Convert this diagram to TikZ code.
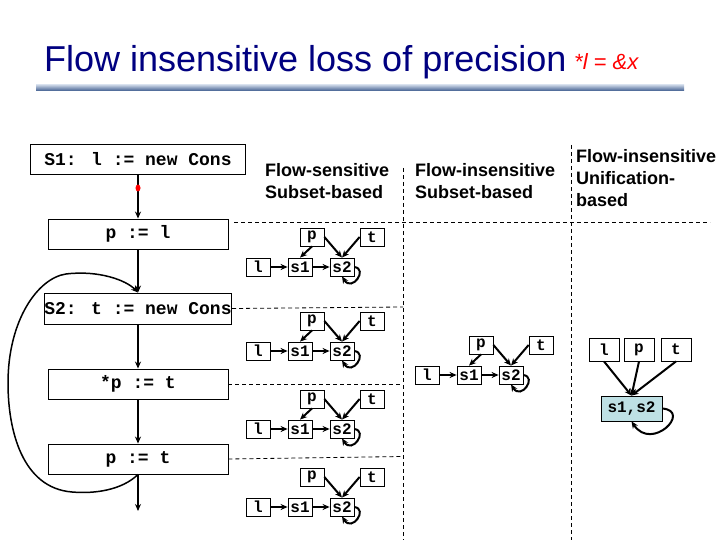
\documentclass[tikz,border=0pt]{standalone}
\usepackage{fontspec}
\setmainfont{Liberation Sans}
\newfontfamily\monofam{Liberation Mono}
\usetikzlibrary{arrows.meta}
\definecolor{titleblue}{RGB}{0,0,128}
\definecolor{unifill}{RGB}{190,224,228}
\tikzset{
  stmt/.style={draw, line width=0.9pt, minimum height=30pt, inner sep=0pt,
    font=\monofam\bfseries\fontsize{18}{20}\selectfont},
  ptbox/.style={draw, line width=0.8pt, minimum width=24pt, minimum height=18pt, inner sep=0pt,
    font=\monofam\bfseries\fontsize{16}{18}\selectfont},
  ubox/.style={draw, line width=0.8pt, minimum width=30pt, minimum height=23pt, inner sep=0pt,
    font=\monofam\bfseries\fontsize{16}{18}\selectfont},
  arr/.style={line width=2pt, -{Stealth[length=7pt,width=6pt]}},
  sep/.style={line width=0.8pt, dash pattern=on 4pt off 3pt},
  head/.style={align=left, anchor=north west, inner sep=0pt,
    font=\bfseries\fontsize{18}{22}\selectfont}
}
\newcommand\fsgraph[4]{%
  \begin{scope}[shift={(#2,#3)}]
    \node[ptbox] (#1p) at (312,237) {p};
    \node[ptbox] (#1t) at (372,237) {t};
    \node[ptbox] (#1l) at (258,267) {l};
    \node[ptbox] (#1s1) at (300,267) {s1};
    \node[ptbox] (#1s2) at (342,267) {s2};
  \end{scope}
  \draw[arr] (#1l) -- (#1s1);
  \draw[arr] (#1s1) -- (#1s2);
  \ifnum#4=1 \draw[arr] (#1p.south) -- (#1s1.north);\fi
  \draw[arr] (#1p.east) -- (#1s2.north);
  \draw[arr] (#1t.west) -- (#1s2.north);
  \draw[arr] (#1s2.east) .. controls +(14,2) and +(10,16) .. (#1s2.south);
}
\begin{document}
\begin{tikzpicture}[x=1pt,y=-1pt]
\useasboundingbox (0,0) rectangle (720,540);
% title
\node[anchor=base west, inner sep=0pt, text=titleblue, font=\fontsize{36}{40}\selectfont] (title) at (44,72) {Flow insensitive loss of precision};
\node[anchor=base west, inner sep=0pt, text=red, font=\itshape\fontsize{22}{24}\selectfont] (note) at (574,70) {*l = \&x};
\shade[top color={rgb,255:red,196;green,208;blue,226}, bottom color={rgb,255:red,62;green,92;blue,142}] (36,85) rectangle (684,91);
% flowchart
\node[stmt, minimum width=215pt] (st1) at (138,159) {S1: l := new Cons};
\node[stmt, minimum width=180pt] (stpl) at (138,234) {p := l};
\node[stmt, minimum width=186pt, minimum height=31pt] (st2) at (138,308.5) {S2: t := new Cons};
\node[stmt, minimum width=180pt] (stsp) at (138,384) {*p := t};
\node[stmt, minimum width=180pt] (stpt) at (138,459) {p := t};
\coordinate (exit) at (138,511);
\draw[arr] (st1) -- (stpl);
\fill[red] (138,188) ellipse (2.5 and 3.5);
\draw[arr] (stpl) -- (st2);
\draw[arr] (st2) -- (stsp);
\draw[arr] (stsp) -- (stpt);
\draw[arr] (stpt) -- (exit);
\draw[line width=1.5pt, -{Stealth[length=7pt,width=6pt]}] (stpt.south) .. controls (122,490) and (95,494) .. (72,492)
  .. controls (22,488) and (8,430) .. (8,383)
  .. controls (8,320) and (38,278) .. (66,274)
  .. controls (98,270) and (126,280) .. (st2.north);
% separators
\draw[sep] (234,222) -- (710,222);
\draw[sep] (st2.east) -- (403,307);
\draw[sep] (stsp.east) -- (403,384);
\draw[sep] (stpt.east) -- (403,456.5);
\draw[sep] (403,168) -- (403,540);
\draw[sep] (571,145) -- (571,540);
% headings
\node[head] (h1) at (265,163) {Flow-sensitive\\Subset-based};
\node[head] (h2) at (415,163) {Flow-insensitive\\Subset-based};
\node[head] (h3) at (576,149) {Flow-insensitive\\Unification-\\based};
% flow-sensitive graphs
\fsgraph{a}{0}{0}{1}
\fsgraph{b}{0}{84}{1}
\fsgraph{c}{0}{162}{1}
\fsgraph{d}{0}{240}{0}
% flow-insensitive subset
\fsgraph{e}{169}{108}{1}
% unification
\node[ubox] (ul) at (604,349.5) {l};
\node[ubox] (up) at (639,349.5) {p};
\node[ubox] (ut) at (676,349.5) {t};
\node[ubox, fill=unifill, minimum width=61pt, minimum height=25pt] (us) at (631.5,408.5) {s1,s2};
\draw[arr] (ul.south) -- (us.north);
\draw[arr] (up.south) -- (us.north);
\draw[arr] (ut.south) -- (us.north);
\draw[arr] (us.east) .. controls (692,411) and (652,452) .. (us.south);
\end{tikzpicture}
\end{document}
